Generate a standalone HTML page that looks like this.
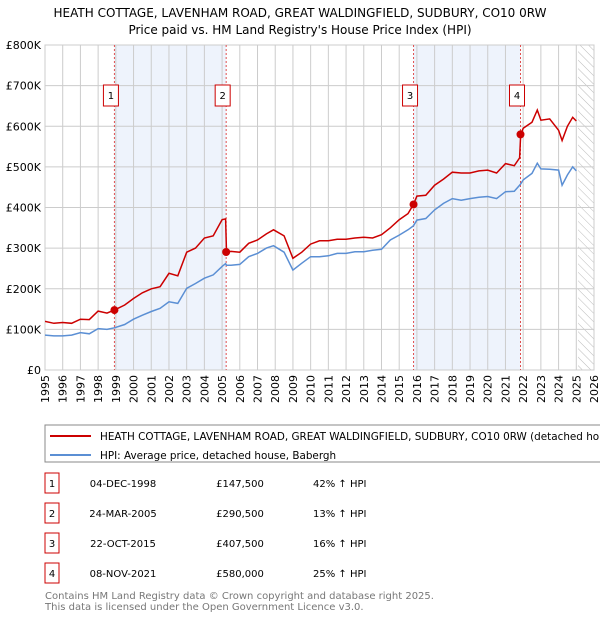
<!DOCTYPE html>
<html><head><meta charset="utf-8"><style>
body{margin:0;background:#fff;font-family:"DejaVu Sans","Liberation Sans",sans-serif;}
svg text{font-family:"DejaVu Sans","Liberation Sans",sans-serif;}
</style></head><body>
<svg id="c" width="600" height="620" xmlns="http://www.w3.org/2000/svg">
<text x="300" y="17" font-size="12" text-anchor="middle">HEATH COTTAGE, LAVENHAM ROAD, GREAT WALDINGFIELD, SUDBURY, CO10 0RW</text>
<text x="300" y="34" font-size="12" text-anchor="middle">Price paid vs. HM Land Registry's House Price Index (HPI)</text>
<defs><pattern id="h" width="6" height="6" patternUnits="userSpaceOnUse" patternTransform="rotate(-45)"><line x1="0" y1="0" x2="0" y2="6" stroke="#bbb" stroke-width="1"/></pattern>
<clipPath id="clip"><rect x="45" y="45" width="549" height="325"/></clipPath></defs>
<g id="plot"></g>
<rect x="45" y="425" width="560" height="37" fill="#fff" stroke="#888"/>
<line x1="50" y1="436" x2="91" y2="436" stroke="#cc0000" stroke-width="2"/>
<text x="100" y="440" font-size="10.4">HEATH COTTAGE, LAVENHAM ROAD, GREAT WALDINGFIELD, SUDBURY, CO10 0RW (detached house)</text>
<line x1="50" y1="455" x2="91" y2="455" stroke="#5b8fd4" stroke-width="2"/>
<text x="100" y="459" font-size="10.4">HPI: Average price, detached house, Babergh</text>
<g id="tbl" font-size="10"></g>
<text x="45" y="599" font-size="10" fill="#777">Contains HM Land Registry data © Crown copyright and database right 2025.</text>
<text x="45" y="610" font-size="10" fill="#777">This data is licensed under the Open Government Licence v3.0.</text>
</svg>
<script>
const times=[1995,1995.5,1996,1996.5,1997,1997.5,1998,1998.5,1998.92,1999.5,2000,2000.5,2001,2001.5,2002,2002.5,2003,2003.5,2004,2004.5,2005,2005.2,2005.25,2005.5,2006,2006.5,2007,2007.5,2007.9,2008.5,2009,2009.5,2010,2010.5,2011,2011.5,2012,2012.5,2013,2013.5,2014,2014.5,2015,2015.5,2015.8,2016,2016.5,2017,2017.5,2018,2018.5,2019,2019.5,2020,2020.5,2021,2021.5,2021.8,2021.86,2022,2022.5,2022.8,2023,2023.5,2024,2024.2,2024.5,2024.8,2025];
const hpiValues=[86,84,84,86,92,89,102,100,104,112,125,135,144,152,168,164,201,213,226,234,255,262,258,258,260,279,287,300,306,290,246,263,279,279,281,287,287,291,291,295,297,320,332,345,355,369,373,394,410,422,418,422,425,427,422,439,440,455,458,468,484,509,495,494,492,455,480,500,490];
const priceValues=[120,115,117,115,125,124,145,140,147.5,160,176,190,200,205,238,232,290,300,325,330,370,372,290.5,292,290,312,320,335,345,330,275,290,310,318,318,322,322,325,327,325,333,350,370,385,407.5,428,430,455,470,487,485,485,490,492,485,508,503,522,580,595,610,640,615,618,590,565,600,622,613];
const saleTimes=[1998.92,2005.23,2015.81,2021.85];
const salePrices=[147.5,290.5,407.5,580];
const saleLabels=["1","2","3","4"];
const saleDates=["04-DEC-1998","24-MAR-2005","22-OCT-2015","08-NOV-2021"];
const salePriceText=["£147,500","£290,500","£407,500","£580,000"];
const saleHpiText=["42% ↑ HPI","13% ↑ HPI","16% ↑ HPI","25% ↑ HPI"];
const yTicks=[0,100,200,300,400,500,600,700,800];
const yTickLabels=["£0","£100K","£200K","£300K","£400K","£500K","£600K","£700K","£800K"];
const xYears=[];for(let y=1995;y<=2026;y++)xYears.push(y);

const NS="http://www.w3.org/2000/svg";
const X=t=>45+(t-1995)*(549/31);
const Y=v=>370-v*(325/800);
function mk(tag,attrs,parent){const e=document.createElementNS(NS,tag);for(const k in attrs)e.setAttribute(k,attrs[k]);parent.appendChild(e);return e;}
const g=document.getElementById('plot');
mk('rect',{x:45,y:45,width:549,height:325,fill:'#fff'},g);
for(let i=0;i<saleTimes.length;i+=2){const r=mk('rect',{x:X(saleTimes[i]),y:45,width:X(saleTimes[i+1])-X(saleTimes[i]),height:325,fill:'#eef3fc'},g);

}
const hr=mk('rect',{x:X(2025.1),y:45,width:594-X(2025.1),height:325,fill:'url(#h)'},g);


xYears.forEach(y=>{const l=mk('line',{x1:X(y),x2:X(y),y1:45,y2:370,stroke:'#ccc','stroke-width':1},g);


const t=mk('text',{x:0,y:0,'font-size':11,'text-anchor':'end',transform:`translate(${X(y)+4},375) rotate(-90)`},g);t.textContent=y;

});
yTicks.forEach((v,i)=>{const l=mk('line',{x1:45,x2:594,y1:Y(v),y2:Y(v),stroke:'#ccc','stroke-width':1},g);


const t=mk('text',{x:41,y:Y(v)+4,'font-size':11,'text-anchor':'end'},g);t.textContent=yTickLabels[i];

});
mk('rect',{x:45,y:45,width:549,height:325,fill:'none',stroke:'#ccc'},g);
saleTimes.forEach((s,i)=>{const l=mk('line',{x1:X(s),x2:X(s),y1:45,y2:370,stroke:'#e05050','stroke-width':1,'stroke-dasharray':'2,2'},g);


const b=mk('rect',{x:X(s)-11,y:85,width:15,height:21,fill:'#fff',stroke:'#cc0000'},g);


const t=mk('text',{x:X(s)-3.5,y:99,'font-size':10,'text-anchor':'middle'},g);t.textContent=saleLabels[i];

});
function path(vals){return vals.map((v,i)=>(i?'L':'M')+X(times[i]).toFixed(1)+','+Y(v).toFixed(1)).join('');}
const hp=mk('path',{d:path(hpiValues),fill:'none',stroke:'#5b8fd4','stroke-width':1.5,'clip-path':'url(#clip)'},g);


const pp=mk('path',{d:path(priceValues),fill:'none',stroke:'#cc0000','stroke-width':1.5,'clip-path':'url(#clip)'},g);


saleTimes.forEach((s,i)=>{const c=mk('circle',{cx:X(s),cy:Y(salePrices[i]),r:4,fill:'#cc0000'},g);

});
const tb=document.getElementById('tbl');
saleLabels.forEach((lab,i)=>{const y=483+i*30;
const b=mk('rect',{x:45,y:y-10,width:14,height:20,fill:'#fff',stroke:'#cc0000'},tb);


const cells=[[52,lab,'middle'],[123,saleDates[i],'middle'],[240,salePriceText[i],'middle'],[313,saleHpiText[i],'start']];
cells.forEach((c,j)=>{const t=mk('text',{x:c[0],y:y+4,'text-anchor':c[2]},tb);t.textContent=c[1];

});});
</script>
</body></html>
